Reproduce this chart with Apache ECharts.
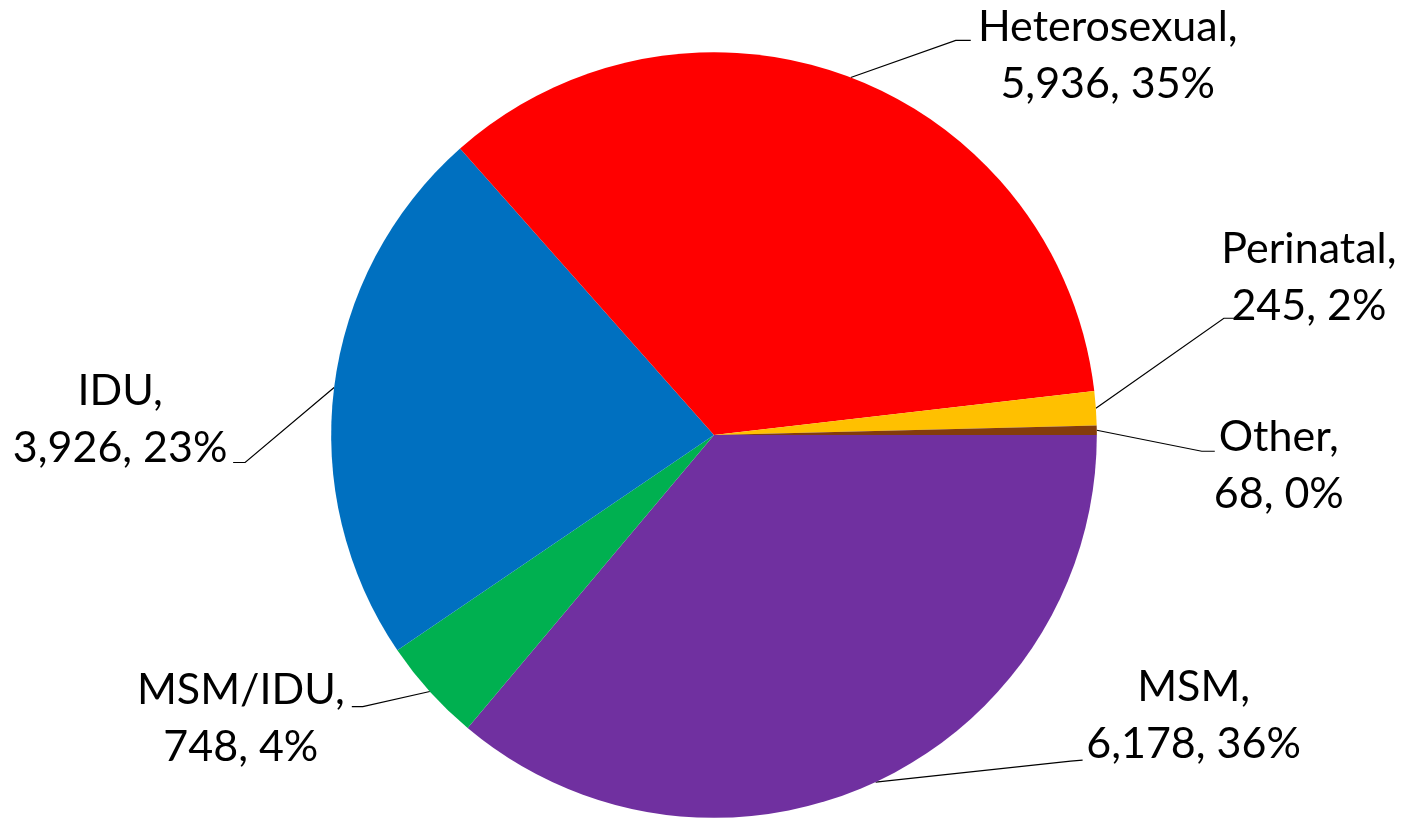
<!DOCTYPE html>
<html>
<head>
<meta charset="utf-8">
<script src="https://cdn.jsdelivr.net/npm/echarts@6/dist/echarts.min.js"></script>
<style>
html,body{margin:0;padding:0;background:#fff;}
#chart{width:1413px;height:818px;}
</style>
</head>
<body>
<div id="chart"></div>
<script>
// Data (clockwise from 3 o'clock)
const categories = ['MSM', 'MSM/IDU', 'IDU', 'Heterosexual', 'Perinatal', 'Other'];
const values = [6178, 748, 3926, 5936, 245, 68];
const percentLabels = ['36%', '4%', '23%', '35%', '2%', '0%'];

// Styling / label placement (offsets from the leader line start on the slice edge)
const colors = ['#7030A0', '#00B050', '#0070C0', '#FF0000', '#FFC000', '#843C0C'];
const labelOffsets = [
  { elbow: [195, -21], end: [207, -22], text: [318, -66] },
  { elbow: [-67, 15], end: [-78, 15], text: [-189, 27] },
  { elbow: [-89, 75], end: [-101, 75], text: [-214, 32] },
  { elbow: [105, -37], end: [120, -37], text: [257, -22] },
  { elbow: [128, -90], end: [141, -90], text: [213, -131] },
  { elbow: [105, 21], end: [118, 21], text: [182, 35] }
];

function fmt(n) { return n.toString().replace(/\B(?=(\d{3})+(?!\d))/g, ','); }

const chart = echarts.init(document.getElementById('chart'), null, { renderer: 'canvas' });
chart.setOption({
  backgroundColor: '#ffffff',
  animation: false,
  series: [{
    type: 'pie',
    center: ['50.53%', '53.18%'],
    radius: '93.6%',
    startAngle: 0,
    clockwise: true,
    avoidLabelOverlap: false,
    data: categories.map((c, i) => ({ name: c, value: values[i], itemStyle: { color: colors[i] } })),
    itemStyle: { borderWidth: 0 },
    label: {
      show: true,
      position: 'outside',
      fontFamily: 'Lato',
      fontSize: 43,
      lineHeight: 57,
      color: '#000',
      align: 'center',
      formatter: p => p.name + ',\n' + fmt(p.value) + ', ' + percentLabels[p.dataIndex]
    },
    labelLine: {
      show: true,
      length: 20,
      length2: 10,
      lineStyle: { color: '#000', width: 1.2 }
    },
    labelLayout: function (params) {
      const o = labelOffsets[params.dataIndex];
      const p0 = params.labelLinePoints[0];
      return {
        x: p0[0] + o.text[0],
        y: p0[1] + o.text[1],
        align: 'center',
        verticalAlign: 'middle',
        labelLinePoints: [
          [p0[0], p0[1]],
          [p0[0] + o.elbow[0], p0[1] + o.elbow[1]],
          [p0[0] + o.end[0], p0[1] + o.end[1]]
        ]
      };
    },
    emphasis: { disabled: true }
  }]
});
</script>
</body>
</html>
